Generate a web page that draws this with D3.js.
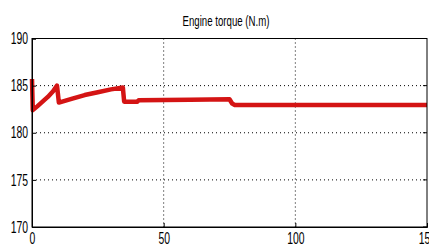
<!DOCTYPE html>
<html>
<head>
<meta charset="utf-8">
<script src="https://cdn.jsdelivr.net/npm/d3@7"></script>
<style>
  body { margin: 0; background: #fff; }
  text { font-family: "Liberation Sans", Arial, sans-serif; }
</style>
</head>
<body>
<svg id="chart" width="429" height="247"></svg>
<script>
// simulation time (s) and engine torque (N.m)
const time   = [0, 0.3, 2, 4, 6, 8, 9.5, 10.2, 15, 20, 25, 30, 34.5, 35, 40, 40.5, 60, 75, 76, 77, 150];
const torque = [185.7, 182.4, 182.8, 183.3, 183.8, 184.4, 185.0, 183.2, 183.6, 184.0, 184.3, 184.6, 184.8, 183.3, 183.3, 183.45, 183.5, 183.55, 183.1, 182.95, 182.95];
const xTicks = [0, 50, 100, 150];
const yTicks = [170, 175, 180, 185, 190];
const title = "Engine torque (N.m)";

const svg = d3.select("#chart");
const margin = {top: 38.5, right: 2, bottom: 20, left: 32};
const dim = {w: 429, h: 247};
const squeeze = 0.65; // narrow look of the original font

const x = d3.scaleLinear().domain([0, 150]).range([margin.left, dim.w - margin.right]);
const y = d3.scaleLinear().domain([170, 190]).range([dim.h - margin.bottom, margin.top]);

// dotted grid
svg.append("g").selectAll("line")
    .data(xTicks.slice(1, -1))
    .join("line")
    .attr("x1", d => x(d)).attr("x2", d => x(d))
    .attr("y1", y(190)).attr("y2", y(170))
    .attr("stroke", "#000").attr("stroke-width", 1)
    .attr("stroke-dasharray", "1,3");
svg.append("g").selectAll("line")
    .data(yTicks.slice(1, -1))
    .join("line")
    .attr("x1", x(0)).attr("x2", x(150))
    .attr("y1", d => y(d)).attr("y2", d => y(d))
    .attr("stroke", "#000").attr("stroke-width", 1)
    .attr("stroke-dasharray", "1,3");

// data line
const line = d3.line().x((d, i) => x(time[i])).y(d => y(d));
svg.append("path")
    .attr("d", line(torque))
    .attr("fill", "none")
    .attr("stroke", "#d41414")
    .attr("stroke-width", 4.5)
    .attr("stroke-linejoin", "round");

// axes
const xAxis = svg.append("g")
    .attr("transform", `translate(0,${y(170)})`)
    .call(d3.axisBottom(x).tickValues(xTicks).tickSize(-4).tickPadding(6));
const yAxis = svg.append("g")
    .attr("transform", `translate(${x(0)},0)`)
    .call(d3.axisLeft(y).tickValues(yTicks).tickSize(-4).tickPadding(4));
[xAxis, yAxis].forEach(a => {
    a.select(".domain").attr("stroke", "#000");
    a.selectAll("text")
        .style("font-size", "16px")
        .attr("fill", "#000")
        .each(function() {
            const t = d3.select(this);
            const tx = +t.attr("x") || 0;
            t.attr("x", 0).attr("transform", `translate(${tx},0) scale(${squeeze},1)`);
        });
});

// right ticks and box
svg.append("g").selectAll("line")
    .data(yTicks)
    .join("line")
    .attr("x1", x(150) - 4).attr("x2", x(150))
    .attr("y1", d => y(d)).attr("y2", d => y(d))
    .attr("stroke", "#000");
svg.append("rect")
    .attr("x", x(0)).attr("y", y(190))
    .attr("width", x(150) - x(0)).attr("height", y(170) - y(190))
    .attr("fill", "none").attr("stroke", "#000");

svg.append("text")
    .attr("transform", "translate(226,26) scale(0.69,1)")
    .attr("text-anchor", "middle")
    .style("font-size", "14px")
    .text(title);
</script>
</body>
</html>
